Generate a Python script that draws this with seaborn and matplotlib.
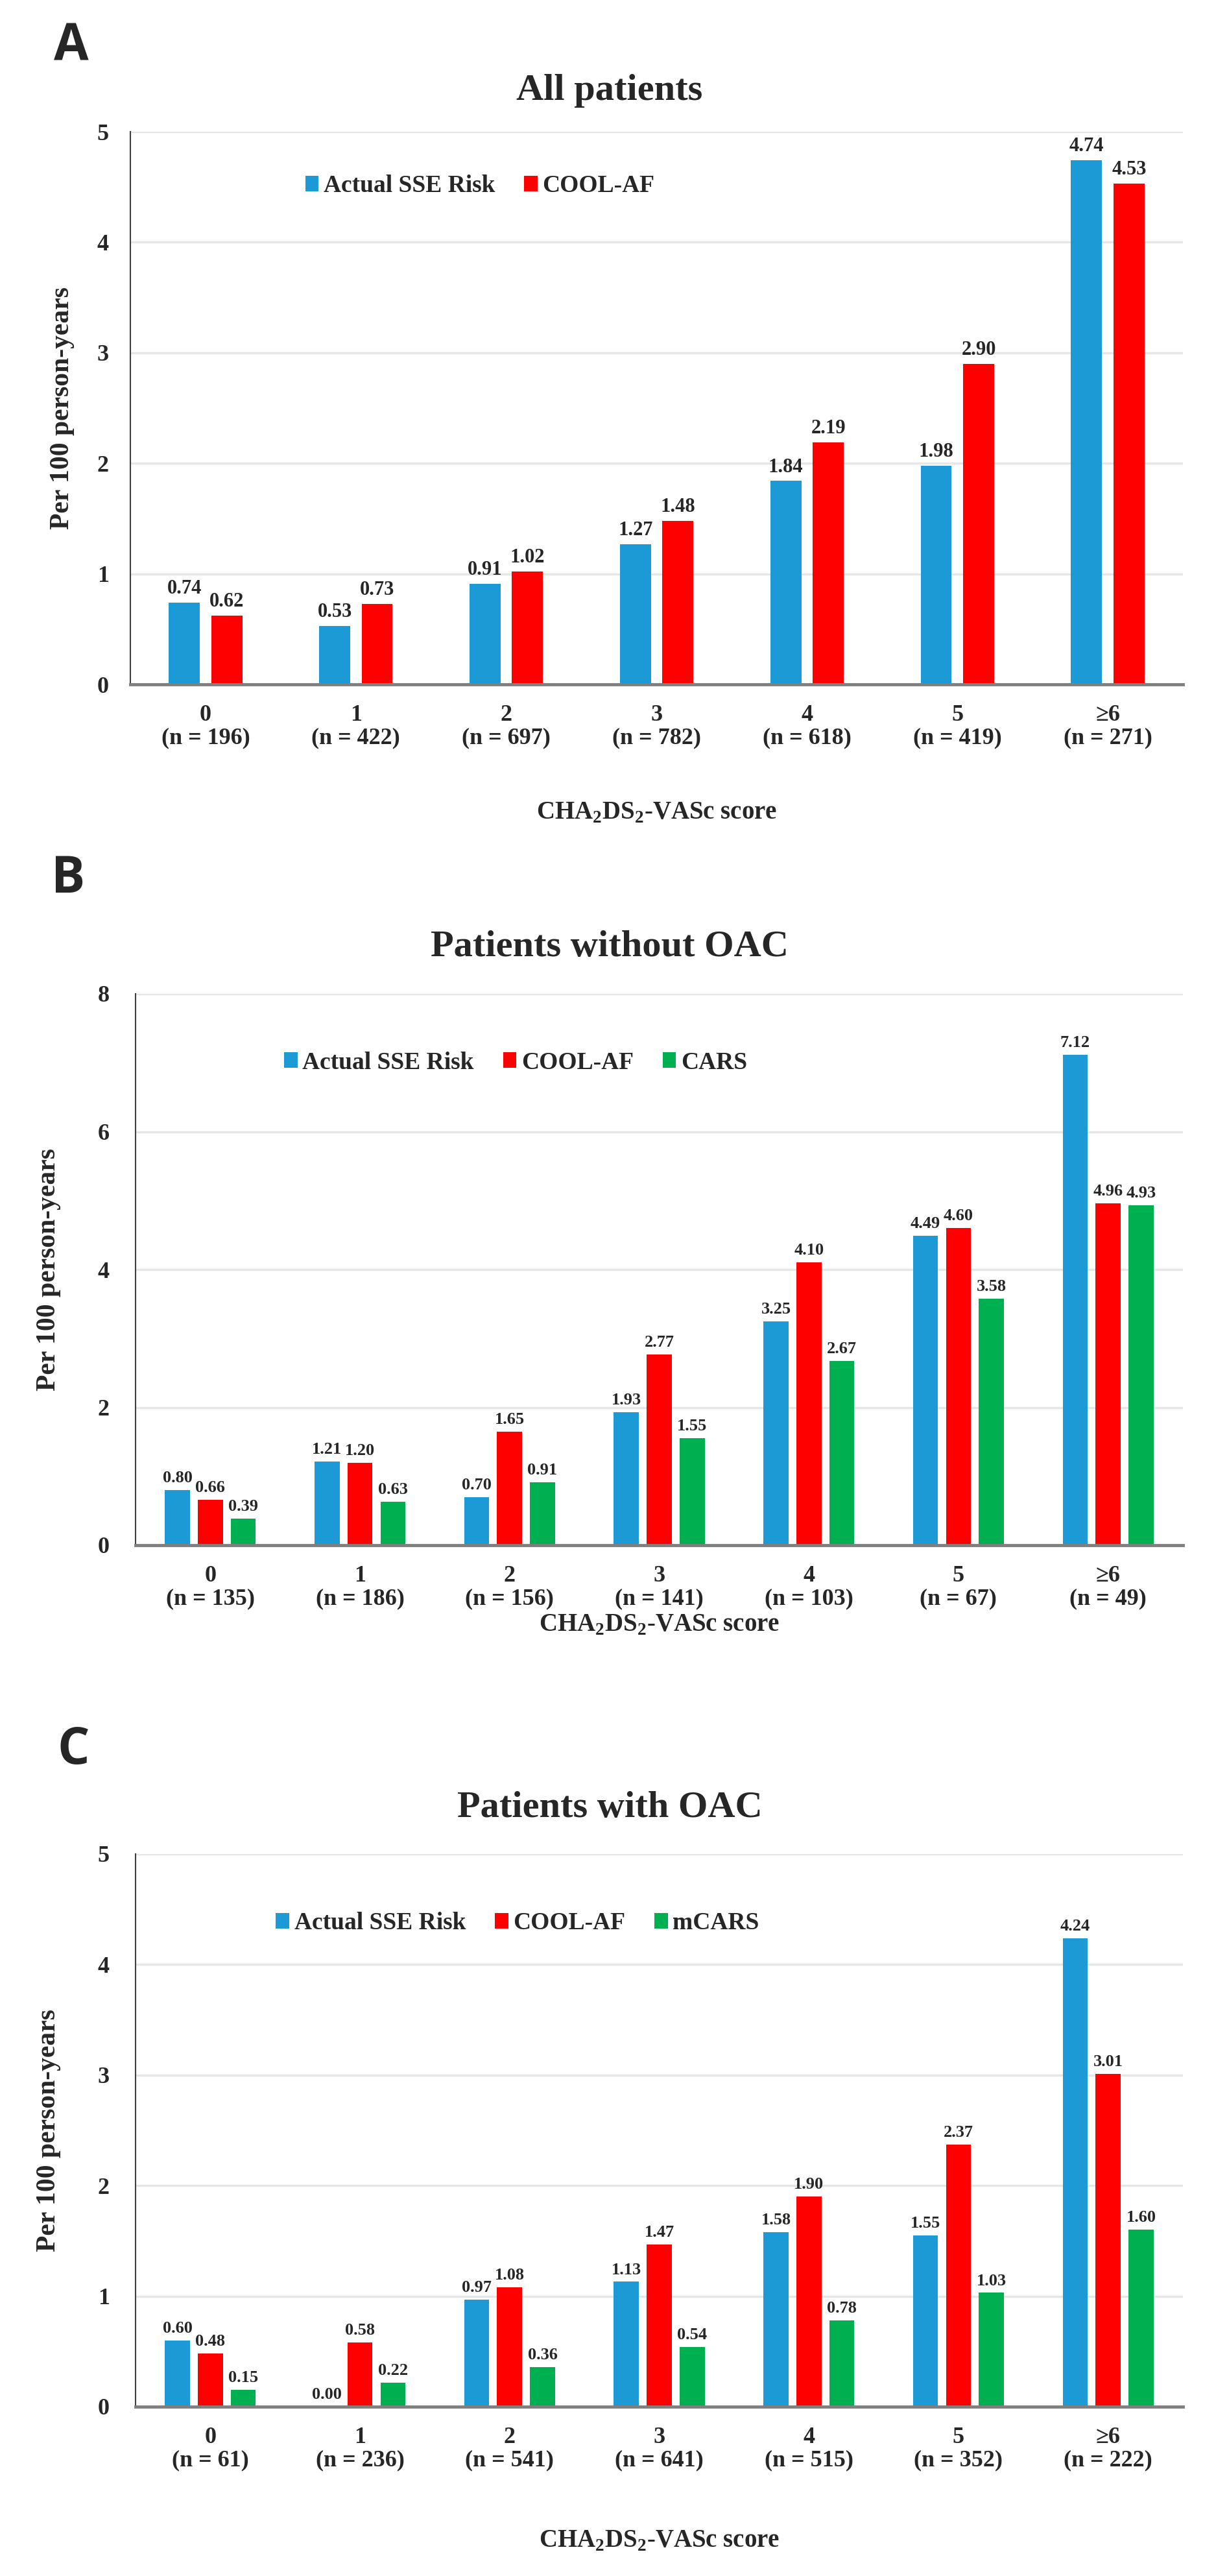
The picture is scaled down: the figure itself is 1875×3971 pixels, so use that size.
import matplotlib
matplotlib.use("Agg")
import matplotlib.pyplot as plt
import seaborn as sns
import pandas as pd
from matplotlib.patches import Patch

sns.set_style("white")
plt.rcParams['font.family'] = ['Liberation Serif', 'DejaVu Serif']
plt.rcParams['font.weight'] = 'bold'
plt.rcParams['mathtext.fontset'] = 'custom'
plt.rcParams['mathtext.rm'] = 'Liberation Serif:bold'
plt.rcParams['mathtext.bf'] = 'Liberation Serif:bold'

# ---- data ----
scores = ["0", "1", "2", "3", "4", "5", "≥6"]

n_all = [196, 422, 697, 782, 618, 419, 271]
actual_all = [0.74, 0.53, 0.91, 1.27, 1.84, 1.98, 4.74]
coolaf_all = [0.62, 0.73, 1.02, 1.48, 2.19, 2.90, 4.53]

n_nooac = [135, 186, 156, 141, 103, 67, 49]
actual_nooac = [0.80, 1.21, 0.70, 1.93, 3.25, 4.49, 7.12]
coolaf_nooac = [0.66, 1.20, 1.65, 2.77, 4.10, 4.60, 4.96]
cars_nooac = [0.39, 0.63, 0.91, 1.55, 2.67, 3.58, 4.93]

n_oac = [61, 236, 541, 641, 515, 352, 222]
actual_oac = [0.60, 0.00, 0.97, 1.13, 1.58, 1.55, 4.24]
coolaf_oac = [0.48, 0.58, 1.08, 1.47, 1.90, 2.37, 3.01]
mcars_oac = [0.15, 0.22, 0.36, 0.54, 0.78, 1.03, 1.60]

colores = {"Actual SSE Risk": "#1B9AD6", "COOL-AF": "#FF0000",
           "CARS": "#00B050", "mCARS": "#00B050"}

W, H = 1875, 3971
fig = plt.figure(figsize=(W / 100, H / 100), dpi=100)


def fx(px):
    return px / W


def fy(py):
    return 1 - py / H


def make_df(ns, series):
    labels = [f"{s}\n(n = {n})" for s, n in zip(scores, ns)]
    rows = []
    for name, vals in series.items():
        for lab, v in zip(labels, vals):
            rows.append({"score": lab, "model": name, "rate": v})
    return pd.DataFrame(rows), labels


def panel(left, right, top, bottom, ns, series, ymax, ystep, width, gap,
          vfs, ypad, letter, letter_xy, title, title_y, leg_xy, ylab_x, xlab_y):
    ax = fig.add_axes([fx(left), fy(bottom), fx(right - left), (bottom - top) / H])
    df, labels = make_df(ns, series)
    sns.barplot(data=df, x="score", y="rate", hue="model", order=labels,
                hue_order=list(series.keys()), palette=colores, saturation=1,
                width=width, gap=gap, legend=False, ax=ax, linewidth=0)
    for cont in ax.containers:
        ax.bar_label(cont, fmt="%.2f", padding=5, fontsize=vfs, fontweight="bold")
    ax.set_ylim(0, ymax)
    ax.set_yticks(range(0, ymax + 1, ystep))
    ax.yaxis.grid(True, color="#E6E6E6", linewidth=2.5)
    ax.set_axisbelow(True)
    ax.spines["top"].set_visible(False)
    ax.spines["right"].set_visible(False)
    ax.spines["left"].set_color("#404040")
    ax.spines["left"].set_linewidth(1.5)
    ax.spines["bottom"].set_color("#7F7F7F")
    ax.spines["bottom"].set_linewidth(3.5)
    ax.tick_params(axis="x", length=0, pad=22, labelsize=26)
    ax.tick_params(axis="y", length=0, pad=ypad, labelsize=26)
    for lab in ax.get_xticklabels():
        lab.set_linespacing(1.1)
        lab.set_fontweight("bold")
    for lab in ax.get_yticklabels():
        lab.set_fontweight("bold")
    ax.set_xlabel("")
    ax.set_ylabel("")

    fig.text(fx(ylab_x), fy((top + bottom) / 2), "Per 100 person-years", rotation=90,
             ha="center", va="center", fontsize=30, fontweight="bold")
    fig.text(fx((left + right) / 2), fy(xlab_y),
             r"CHA$_\mathregular{2}$DS$_\mathregular{2}$-VASc score",
             ha="center", va="center", fontsize=28, fontweight="bold")
    fig.text(fx(940), fy(title_y), title, ha="center", va="center",
             fontsize=42, fontweight="bold")
    fig.text(fx(letter_xy[0]), fy(letter_xy[1]), letter, ha="center", va="center",
             fontsize=56, fontweight="bold", family=["Open Sans", "DejaVu Sans"])

    handles = [Patch(facecolor=colores[k], edgecolor="none", label=k) for k in series]
    fig.legend(handles=handles, loc="center", bbox_to_anchor=(fx(leg_xy[0]), fy(leg_xy[1])),
               ncol=len(handles), frameon=False, fontsize=27, handlelength=0.55,
               handleheight=0.6, handletextpad=0.2, columnspacing=1.2,
               prop={"weight": "bold", "size": 27})
    return ax


panel(201, 1824, 203, 1055, n_all,
      {"Actual SSE Risk": actual_all, "COOL-AF": coolaf_all},
      5, 1, 0.565, 0.27, 22, 24, "A", (110, 72), "All patients", 140,
      (740, 287), 96, 1253)

panel(209, 1824, 1532, 2382, n_nooac,
      {"Actual SSE Risk": actual_nooac, "COOL-AF": coolaf_nooac, "CARS": cars_nooac},
      8, 2, 0.66, 0.24, 19, 29, "B", (105, 1355), "Patients without OAC", 1460,
      (795, 1638), 75, 2505)

panel(209, 1824, 2858, 3710, n_oac,
      {"Actual SSE Risk": actual_oac, "COOL-AF": coolaf_oac, "mCARS": mcars_oac},
      5, 1, 0.66, 0.24, 19, 29, "C", (113, 2699), "Patients with OAC", 2787,
      (798, 2965), 75, 3917)

fig.savefig("out.png", dpi=100, facecolor="white")
